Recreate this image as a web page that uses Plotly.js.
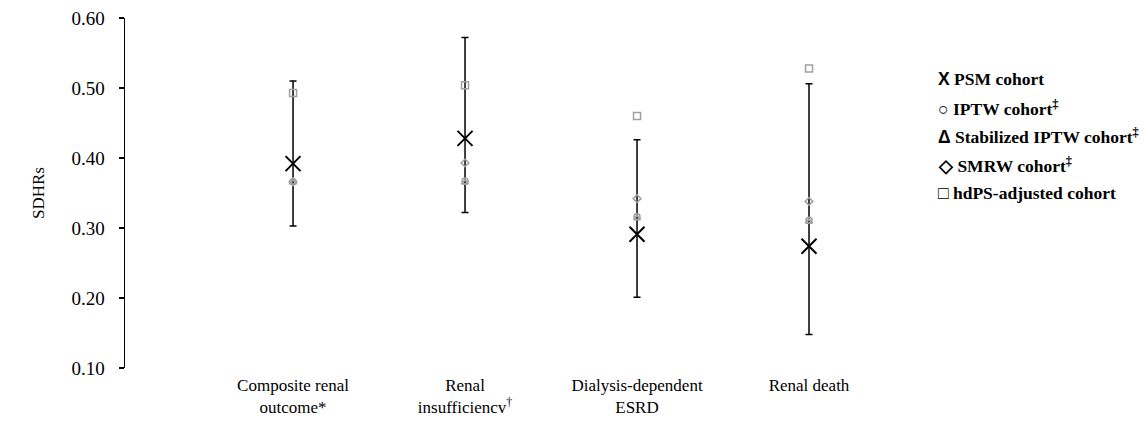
<!DOCTYPE html>
<html>
<head>
<meta charset="utf-8">
<script src="https://cdn.plot.ly/plotly-3.0.1.min.js"></script>
<style>html,body{margin:0;padding:0;background:#fff;}#chart{width:1146px;height:423px;}</style>
</head>
<body>
<div id="chart"></div>
<script>
const categories = ["Composite renal<br>outcome*", "Renal<br>insufficiencv<sup>†</sup>", "Dialysis-dependent<br>ESRD", "Renal death"];
const psm = [0.392, 0.428, 0.291, 0.274];
const psmUpper = [0.510, 0.572, 0.426, 0.506];
const psmLower = [0.303, 0.322, 0.201, 0.148];
const iptw = [0.366, 0.367, 0.316, 0.311];
const stabIptw = [0.365, 0.365, 0.314, 0.309];
const smrw = [0.366, 0.393, 0.342, 0.338];
const hdps = [0.493, 0.504, 0.460, 0.528];
const legendSymbols = ["X", "○", "Δ", "◇", "□"];
const legendLabels = ["PSM cohort", "IPTW cohort<sup>‡</sup>", "Stabilized IPTW cohort<sup>‡</sup>", "SMRW cohort<sup>‡</sup>", "hdPS-adjusted cohort"];

const serif = "Liberation Serif, Times New Roman, serif";
const grey = "#a0a0a0";

function greyTrace(y, symbol, size) {
  return {
    x: categories, y: y, type: "scatter", mode: "markers", showlegend: false,
    marker: {symbol: symbol, size: size, color: grey, line: {color: grey, width: 1.5}},
    hoverinfo: "skip"
  };
}

const traces = [
  {
    x: categories, y: psm, type: "scatter", mode: "markers", showlegend: false,
    error_y: {
      type: "data", symmetric: false,
      array: psmUpper.map((u, i) => u - psm[i]),
      arrayminus: psm.map((v, i) => v - psmLower[i]),
      color: "#000", thickness: 1.5, width: 3.5
    },
    marker: {symbol: "x-thin-open", size: 0.1, color: "rgba(0,0,0,0)"}
  },
  greyTrace(iptw, "circle-open", 6),
  greyTrace(stabIptw, "triangle-up-open", 6),
  greyTrace(smrw, "diamond-open", 6),
  greyTrace(hdps, "square-open", 7),
  {
    x: categories, y: psm, type: "scatter", mode: "markers", showlegend: false,
    marker: {symbol: "x-thin-open", size: 15, color: "#000", line: {color: "#000", width: 2}}
  }
];

const plotL = 125, plotW = 856, plotT = 18, plotH = 350;
const annotations = legendLabels.map((lab, i) => ({
  xref: "paper", yref: "paper", xanchor: "left", yanchor: "middle",
  x: (936 - plotL) / plotW, y: 1 - (79 + i * 28.5 - plotT) / plotH,
  showarrow: false, align: "left",
  text: '<span style="font-family:Liberation Sans, Arial, sans-serif">' + legendSymbols[i] + '</span> ' + lab,
  font: {family: serif, size: 17.5, color: "#000", weight: "bold"}
}));

const layout = {
  width: 1146, height: 423,
  margin: {l: plotL, r: 1146 - plotL - plotW, t: plotT, b: 423 - plotT - plotH},
  paper_bgcolor: "#fff", plot_bgcolor: "#fff",
  showlegend: false,
  font: {family: serif, size: 17, color: "#000"},
  xaxis: {
    type: "category", range: [-0.977, 4],
    showline: false, showgrid: false, zeroline: false, ticks: "",
    ticklabelstandoff: 5,
    tickfont: {family: serif, size: 17, color: "#000"}
  },
  yaxis: {
    range: [0.1, 0.6], dtick: 0.1, tick0: 0.1, tickformat: ".2f",
    showline: true, linecolor: "#000", linewidth: 1.5,
    ticks: "outside", ticklen: 5, tickwidth: 1.5, tickcolor: "#000",
    ticklabelstandoff: 10,
    showgrid: false, zeroline: false,
    tickfont: {family: serif, size: 19, color: "#000"},
    title: {text: "SDHRs", font: {family: serif, size: 17, color: "#000"}, standoff: 22}
  },
  annotations: annotations
};

Plotly.newPlot("chart", traces, layout, {displayModeBar: false, staticPlot: true});
</script>
</body>
</html>
